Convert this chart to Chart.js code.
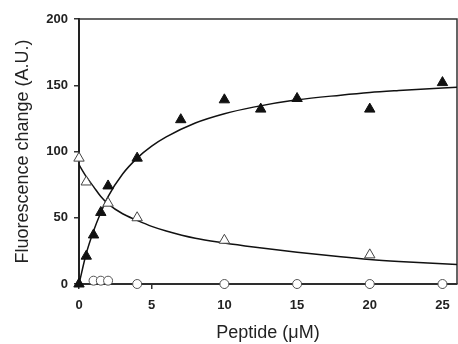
<!DOCTYPE html>
<html>
<head>
<meta charset="utf-8">
<script src="https://cdn.jsdelivr.net/npm/chart.js@4"></script>
<style>
  html, body { margin: 0; padding: 0; background: #fff; }
</style>
</head>
<body>
<canvas id="chart" width="458" height="344"></canvas>
<script>
// measured points (peptide uM -> fluorescence change)
const filledX = [0, 0.5, 1, 1.5, 2, 4, 7, 10, 12.5, 15, 20, 25];
const filledY = [0, 21, 37, 54, 74, 95, 124, 139, 132, 140, 132, 152];

const openX = [0, 0.5, 2, 4, 10, 20];
const openY = [95, 77, 61, 50, 33, 22];

const circleX = [1, 1.5, 2, 4, 10, 15, 20, 25];
const circleY = [2.5, 2.5, 2.5, 0, 0, 0, 0, 0];

// fitted curves
const riseX = [0, 0.5, 1, 1.5, 2, 3, 4, 5, 6, 8, 10, 12, 15, 18, 20, 22, 25, 26];
const riseY = [0, 23, 40, 54, 66, 83, 95, 104, 111, 121.5, 128.5, 133.5, 139, 142.5, 144.5, 146, 148, 148.5];

const fallX = [0, 0.5, 1, 1.5, 2, 3, 4, 5, 6, 8, 10, 12, 15, 18, 20, 22, 25, 26];
const fallY = [90, 81, 73.5, 66, 60.5, 53, 48, 43.5, 40, 34.5, 31, 28, 24, 20.5, 18.5, 17, 15.2, 14.8];

const flatX = [0, 26];
const flatY = [0, 0];

const xTicks = [0, 5, 10, 15, 20, 25];
const yTicks = [0, 50, 100, 150, 200];

const pts = (xs, ys) => xs.map((x, i) => ({ x: x, y: ys[i] }));

// top and right edges of the frame
const frame = {
  id: 'frame',
  beforeDatasetsDraw(chart) {
    const a = chart.chartArea;
    const ctx = chart.ctx;
    ctx.save();
    ctx.strokeStyle = '#333';
    ctx.lineWidth = 1.5;
    ctx.beginPath();
    ctx.moveTo(a.left, a.top);
    ctx.lineTo(a.right, a.top);
    ctx.lineTo(a.right, a.bottom);
    ctx.stroke();
    ctx.restore();
  }
};

const tickFont = { family: 'Liberation Sans', size: 13, weight: 'bold' };
const titleFont = { family: 'Liberation Sans', size: 18 };

new Chart(document.getElementById('chart'), {
  type: 'scatter',
  data: {
    datasets: [
      {
        data: pts(filledX, filledY),
        pointStyle: 'triangle',
        pointRadius: 6,
        backgroundColor: '#111',
        borderColor: '#111',
        borderWidth: 1,
        clip: false,
        order: 0
      },
      {
        data: pts(openX, openY),
        pointStyle: 'triangle',
        pointRadius: 6,
        backgroundColor: '#fff',
        borderColor: '#444',
        borderWidth: 1,
        clip: false,
        order: 0
      },
      {
        data: pts(circleX, circleY),
        pointStyle: 'circle',
        pointRadius: 4.5,
        backgroundColor: '#fff',
        borderColor: '#555',
        borderWidth: 1,
        clip: false,
        order: 0
      },
      {
        data: pts(riseX, riseY),
        showLine: true,
        pointRadius: 0,
        borderColor: '#111',
        borderWidth: 1.5,
        cubicInterpolationMode: 'monotone',
        order: 1
      },
      {
        data: pts(fallX, fallY),
        showLine: true,
        pointRadius: 0,
        borderColor: '#111',
        borderWidth: 1.5,
        cubicInterpolationMode: 'monotone',
        order: 1
      },
      {
        data: pts(flatX, flatY),
        showLine: true,
        pointRadius: 0,
        borderColor: '#333',
        borderWidth: 1.5,
        clip: false,
        order: 1
      }
    ]
  },
  options: {
    responsive: false,
    animation: false,
    layout: { autoPadding: false, padding: { left: 0, right: 1, top: 19, bottom: 0 } },
    plugins: {
      legend: { display: false },
      tooltip: { enabled: false }
    },
    scales: {
      x: {
        type: 'linear',
        min: 0,
        max: 26,
        afterBuildTicks: (s) => { s.ticks = xTicks.map(v => ({ value: v })); },
        afterFit: (s) => { s.height = 60; s.paddingLeft = 0; s.paddingRight = 0; },
        grid: { display: true, drawOnChartArea: false, tickLength: 5, color: '#333', lineWidth: 1.5 },
        border: { display: true, color: '#222', width: 2 },
        ticks: { font: tickFont, color: '#222', padding: 9, maxRotation: 0 },
        title: { display: true, text: 'Peptide (μM)', font: titleFont, color: '#222', padding: { top: 0, bottom: 0 } }
      },
      y: {
        min: 0,
        max: 200,
        afterBuildTicks: (s) => { s.ticks = yTicks.map(v => ({ value: v })); },
        afterFit: (s) => { s.width = 79; },
        grid: { display: true, drawOnChartArea: false, tickLength: 5, color: '#333', lineWidth: 1.5 },
        border: { display: true, color: '#222', width: 2 },
        ticks: { font: tickFont, color: '#222', padding: 6 },
        title: { display: true, text: 'Fluorescence change (A.U.)', font: titleFont, color: '#222', padding: { top: 12, bottom: 0 } }
      }
    }
  },
  plugins: [frame]
});
</script>
</body>
</html>
